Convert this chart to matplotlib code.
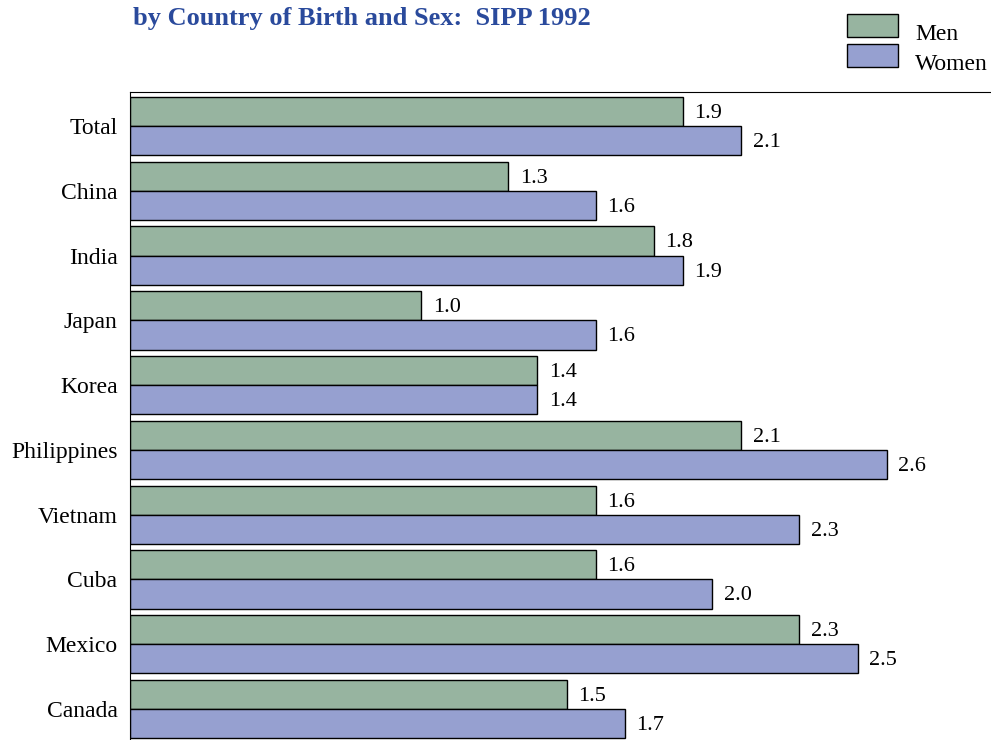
import numpy as np
import matplotlib
matplotlib.use("Agg")
import matplotlib.pyplot as plt
from matplotlib.patches import Rectangle

# === data ===
countries = ["Total", "China", "India", "Japan", "Korea", "Philippines",
             "Vietnam", "Cuba", "Mexico", "Canada"]
men = [1.9, 1.3, 1.8, 1.0, 1.4, 2.1, 1.6, 1.6, 2.3, 1.5]
women = [2.1, 1.6, 1.9, 1.6, 1.4, 2.6, 2.3, 2.0, 2.5, 1.7]

plt.rcParams["font.family"] = ["Liberation Serif", "DejaVu Serif"]

fig = plt.figure(figsize=(9.91, 7.40), dpi=100)
ax = fig.add_axes([130 / 991, 0, 1 - 130 / 991, 1 - 92 / 740])

y = np.arange(len(countries))
h = 0.45
men_col = "#97b4a0"
women_col = "#96a0d0"

ax.barh(y - h / 2, men, height=h, color=men_col, edgecolor="black", linewidth=1)
ax.barh(y + h / 2, women, height=h, color=women_col, edgecolor="black", linewidth=1)

for yy, v in zip(y - h / 2, men):
    ax.text(v + 0.04, yy + 0.03, f"{v:.1f}", va="center", ha="left", fontsize=16)
for yy, v in zip(y + h / 2, women):
    ax.text(v + 0.04, yy + 0.03, f"{v:.1f}", va="center", ha="left", fontsize=16)

ax.set_xlim(0, 861 / 291)
ax.set_ylim(9 + 0.478, -0.525)
ax.set_yticks(y)
ax.set_yticklabels(countries, fontsize=17)
ax.tick_params(axis="y", length=0, pad=9)
ax.set_xticks([])
ax.spines["right"].set_visible(False)
ax.spines["bottom"].set_visible(False)

fig.text(133 / 991, 1 - 7 / 740, "by Country of Birth and Sex:  SIPP 1992",
         fontsize=19, fontweight="bold", color="#2a4a9c", ha="left", va="top")

# legend drawn by hand (text sits a bit below the swatch, like the original)
for i, (lab, col) in enumerate([("Men", men_col), ("Women", women_col)]):
    top = 14 + i * 30
    fig.add_artist(Rectangle((847 / 991, 1 - (top + 23) / 740), 51 / 991, 23 / 740,
                             transform=fig.transFigure, facecolor=col,
                             edgecolor="black", linewidth=1))
    fig.text(915 / 991, 1 - (top + 21) / 740, lab, fontsize=17, ha="left", va="center")

fig.savefig("out.png", dpi=100)
